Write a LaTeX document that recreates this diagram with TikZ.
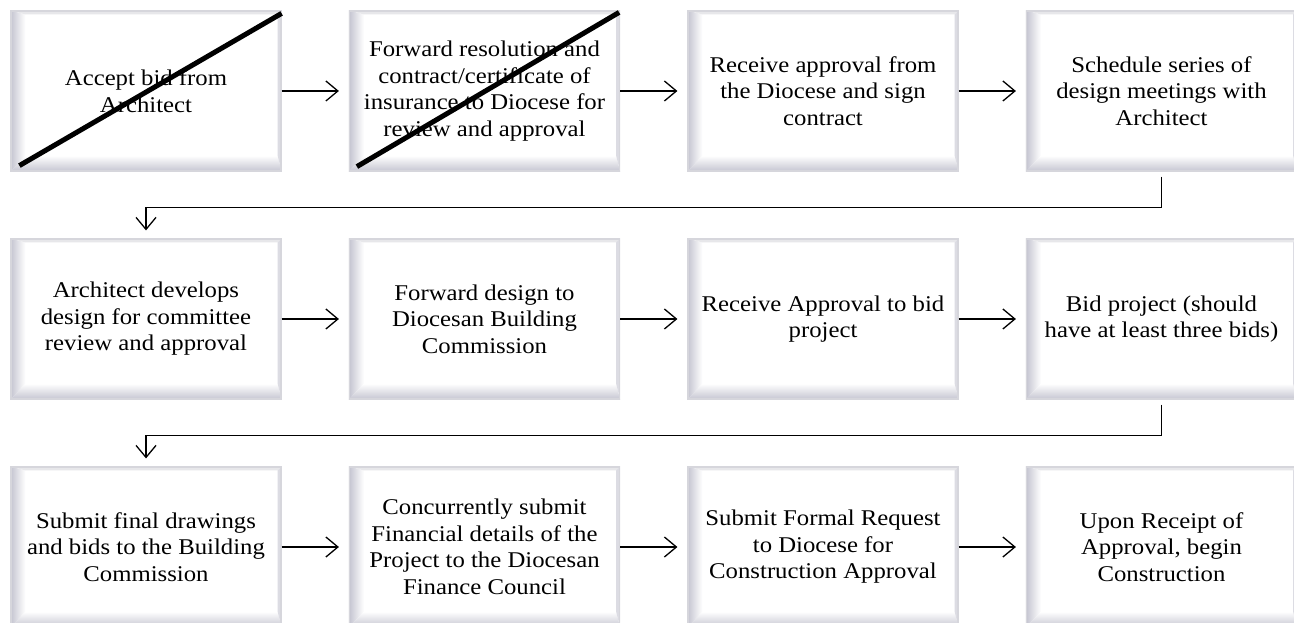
\documentclass[tikz,border=0pt]{standalone}
\usepackage{fontspec}
\setmainfont[FakeStretch=1.1]{Liberation Serif}
\usetikzlibrary{calc}
\usetikzlibrary{arrows.meta}
\usetikzlibrary{backgrounds}

\definecolor{bevelgray}{RGB}{196,196,208}
\definecolor{edgegray}{RGB}{214,214,220}

\tikzset{
  stepbox/.style={rectangle, draw=edgegray, line width=1.2pt, minimum width=270pt, minimum height=160pt, inner sep=0pt, align=center, font=\fontsize{22.5}{26.5}\selectfont},
  flow/.style={black, line width=1.3pt, shorten >=10pt, -{Straight Barb[length=12pt,width=20pt,line width=1.3pt]}},
  strike/.style={black, line width=5pt},
}

\begin{document}
\begin{tikzpicture}[x=1pt,y=1pt]
\useasboundingbox (0,0) rectangle (1294,622);

% row 1
\node[stepbox] (accept) at (146,531) {Accept bid from\\Architect};
\node[stepbox] (forward) at (484.5,531) {Forward resolution and\\contract/certificate of\\insurance to Diocese for\\review and approval};
\node[stepbox] (receive) at (823,531) {Receive approval from\\the Diocese and sign\\contract};
\node[stepbox] (schedule) at (1161.5,531) {Schedule series of\\design meetings with\\Architect};

% row 2
\node[stepbox] (develop) at (146,303) {Architect develops\\design for committee\\review and approval};
\node[stepbox] (design) at (484.5,303) {Forward design to\\Diocesan Building\\Commission};
\node[stepbox] (approve) at (823,303) {Receive Approval to bid\\project};
\node[stepbox] (bid) at (1161.5,303) {Bid project (should\\have at least three bids)};

% row 3
\node[stepbox] (submit) at (146,75) {Submit final drawings\\and bids to the Building\\Commission};
\node[stepbox] (finance) at (484.5,75) {Concurrently submit\\Financial details of the\\Project to the Diocesan\\Finance Council};
\node[stepbox] (request) at (823,75) {Submit Formal Request\\to Diocese for\\Construction Approval};
\node[stepbox] (begin) at (1161.5,75) {Upon Receipt of\\Approval, begin\\Construction};

% bevel edges
\begin{scope}[on background layer]
\fill[white] (0,0) rectangle (1294,622);
\foreach \n in {accept,forward,receive,schedule,develop,design,approve,bid,submit,finance,request,begin}{
  \shade[left color=bevelgray, right color=white] (\n.south west) -- (\n.north west) -- ($(\n.north west)+(15,-4)$) -- ($(\n.south west)+(15,16)$) -- cycle;
  \shade[bottom color=bevelgray, top color=white] (\n.south west) -- ($(\n.south west)+(15,16)$) -- ($(\n.south east)+(-4,16)$) -- (\n.south east) -- cycle;
  \fill[edgegray!60] (\n.north west) -- (\n.north east) -- ($(\n.north east)+(-4,-4)$) -- ($(\n.north west)+(15,-4)$) -- cycle;
  \fill[bevelgray!60] (\n.north east) -- (\n.south east) -- ($(\n.south east)+(-4,16)$) -- ($(\n.north east)+(-4,-4)$) -- cycle;
}
\end{scope}

% crossed out steps
\draw[strike] ($(accept.south west)+(9,6)$) -- ($(accept.north east)+(0,-3)$);
\draw[strike] ($(forward.south west)+(8,5)$) -- ($(forward.north east)+(-1,-2)$);

% connectors
\draw[flow] (accept) -- (forward);
\draw[flow] (forward) -- (receive);
\draw[flow] (receive) -- (schedule);
\draw[flow, shorten <=5pt, shorten >=8pt] (schedule.south) -- ++(0,-36) -| (develop.north);
\draw[flow] (develop) -- (design);
\draw[flow] (design) -- (approve);
\draw[flow] (approve) -- (bid);
\draw[flow, shorten <=5pt, shorten >=8pt] (bid.south) -- ++(0,-36) -| (submit.north);
\draw[flow] (submit) -- (finance);
\draw[flow] (finance) -- (request);
\draw[flow] (request) -- (begin);

\end{tikzpicture}
\end{document}
